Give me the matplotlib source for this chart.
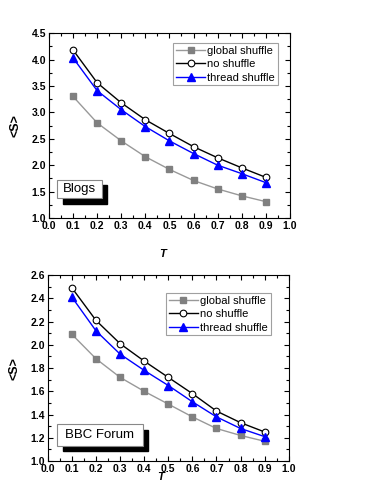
import numpy as np
import matplotlib.pyplot as plt
from matplotlib.patches import Rectangle
from matplotlib.ticker import MultipleLocator

plt.rcParams['font.family'] = ['Liberation Sans', 'DejaVu Sans']

T = [0.1, 0.2, 0.3, 0.4, 0.5, 0.6, 0.7, 0.8, 0.9]

# Blogs
blogs_global = [3.30, 2.80, 2.46, 2.16, 1.92, 1.71, 1.55, 1.42, 1.31]
blogs_none = [4.18, 3.56, 3.18, 2.86, 2.60, 2.35, 2.14, 1.95, 1.77]
blogs_thread = [4.03, 3.41, 3.05, 2.73, 2.46, 2.22, 2.00, 1.84, 1.67]

# BBC Forum
bbc_global = [2.09, 1.88, 1.72, 1.60, 1.49, 1.38, 1.28, 1.22, 1.17]
bbc_none = [2.49, 2.21, 2.01, 1.86, 1.72, 1.58, 1.43, 1.33, 1.25]
bbc_thread = [2.41, 2.12, 1.92, 1.78, 1.65, 1.51, 1.38, 1.28, 1.21]

fig = plt.figure(figsize=(3.74, 4.84), dpi=100)
ax1 = fig.add_axes([0.131, 0.5496, 0.644, 0.382])
ax2 = fig.add_axes([0.128, 0.0475, 0.644, 0.384])


def draw(ax, g, n, t, ylim, ymaj, label, box, shadow, leg_anchor):
    ax.plot(T, g, color='#999999', marker='s', ms=4, lw=1,
            mfc='#808080', mec='#808080', label='global shuffle')
    ax.plot(T, n, color='black', marker='o', ms=4.8, lw=1,
            mfc='white', mec='black', mew=0.8, label='no shuffle')
    ax.plot(T, t, color='blue', marker='^', ms=5.5, lw=1,
            mfc='blue', mec='blue', label='thread shuffle')
    ax.set_xlim(0, 1.0)
    ax.set_ylim(*ylim)
    ax.xaxis.set_major_locator(MultipleLocator(0.1))
    ax.xaxis.set_minor_locator(MultipleLocator(0.05))
    ax.yaxis.set_major_locator(MultipleLocator(ymaj))
    ax.yaxis.set_minor_locator(MultipleLocator(ymaj / 2))
    ax.tick_params(which='both', direction='in', top=True, right=True,
                   labelsize=7.5, width=0.8)
    ax.tick_params(which='major', length=3.5, pad=2)
    ax.tick_params(which='minor', length=2)
    for lab in ax.get_xticklabels() + ax.get_yticklabels():
        lab.set_fontweight('bold')
    ax.set_ylabel('<S>', fontsize=9, fontweight='bold')
    ax.yaxis.set_label_coords(-0.115, 0.5)
    ax.set_xlabel('T', fontsize=8, fontweight='bold', style='italic')
    leg = ax.legend(loc='upper right', bbox_to_anchor=leg_anchor,
                    fontsize=8, frameon=True, fancybox=False,
                    borderpad=0.25, labelspacing=0.3, handlelength=2.6,
                    handletextpad=0.2, borderaxespad=0)
    leg.get_frame().set_edgecolor('#888888')
    leg.get_frame().set_linewidth(0.8)
    # label box with black shadow
    ax.add_patch(Rectangle(shadow[:2], shadow[2], shadow[3],
                           transform=ax.transAxes, facecolor='black',
                           edgecolor='black', zorder=4))
    ax.add_patch(Rectangle(box[:2], box[2], box[3],
                           transform=ax.transAxes, facecolor='white',
                           edgecolor='#888888', lw=0.8, zorder=5))
    ax.text(box[0] + box[2] / 2, box[1] + box[3] / 2, label,
            transform=ax.transAxes, ha='center', va='center',
            fontsize=9.5, zorder=6)


draw(ax1, blogs_global, blogs_none, blogs_thread, (1.0, 4.5), 0.5, 'Blogs',
     (0.033, 0.108, 0.187, 0.097), (0.058, 0.076, 0.183, 0.1), (0.95, 0.946))
draw(ax2, bbc_global, bbc_none, bbc_thread, (1.0, 2.6), 0.2, 'BBC Forum',
     (0.037, 0.081, 0.357, 0.118), (0.062, 0.054, 0.355, 0.115), (0.925, 0.903))

ax1.xaxis.set_label_coords(0.47, -0.17)
ax2.xaxis.set_label_coords(0.47, -0.06)

fig.savefig('out.png', dpi=100)
